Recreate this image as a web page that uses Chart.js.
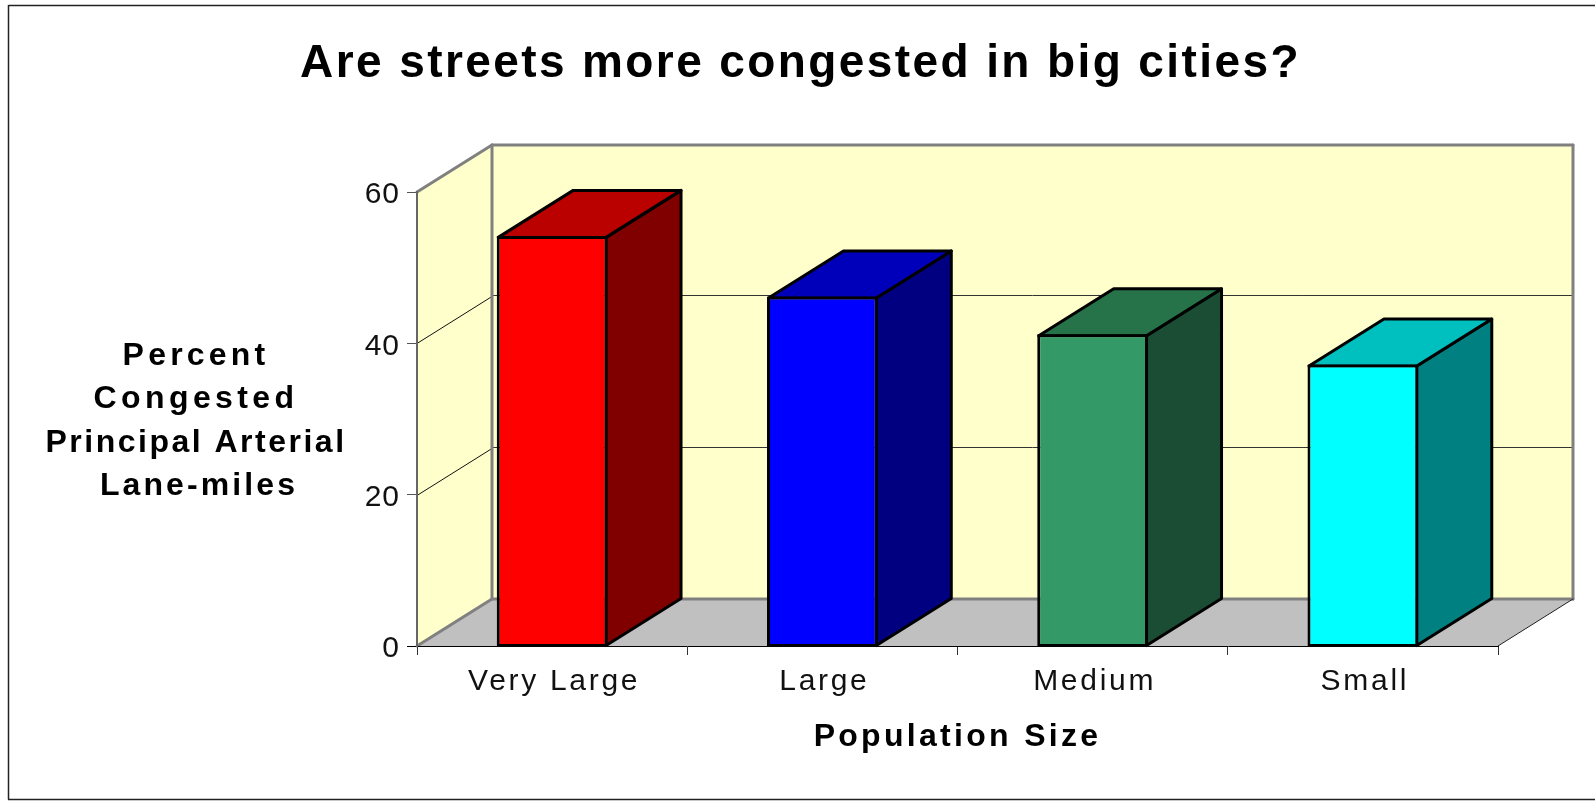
<!DOCTYPE html>
<html>
<head>
<meta charset="utf-8">
<style>html,body{margin:0;padding:0;background:#fff}canvas{display:block}</style>
<script src="https://cdn.jsdelivr.net/npm/chart.js@4/dist/chart.umd.min.js"></script>
</head>
<body>
<canvas id="c" width="1595" height="801"></canvas>
<script>
const categories = ['Very Large', 'Large', 'Medium', 'Small'];
const congestedPercent = [54.2, 46.2, 41.2, 37.2];
const yTicks = [0, 20, 40, 60];
const chartTitle = 'Are streets more congested in big cities?';
const xTitle = 'Population Size';
const yTitleLines = ['Percent', 'Congested', 'Principal Arterial', 'Lane-miles'];
const yTitleSpacing = ['4.2px', '4.4px', '2.5px', '3.1px'];
const yTitleCenters = [196, 196, 196, 199];

const frontColors = ['#FF0000', '#0000FF', '#339966', '#00FFFF'];
const topColors = ['#BB0000', '#0000BB', '#267349', '#00BFBF'];
const sideColors = ['#800000', '#000080', '#1A4D33', '#008080'];

const FONT = '"Liberation Sans", Arial, sans-serif';
const DX = 75, DY = 47;
const EDGE = 3;

function poly(ctx, pts, fill, stroke, lw) {
  ctx.beginPath();
  pts.forEach((p, i) => i ? ctx.lineTo(p[0], p[1]) : ctx.moveTo(p[0], p[1]));
  ctx.closePath();
  if (fill) { ctx.fillStyle = fill; ctx.fill(); }
  if (stroke) { ctx.strokeStyle = stroke; ctx.lineWidth = lw; ctx.stroke(); }
}
function seg(ctx, x1, y1, x2, y2, color, lw) {
  ctx.beginPath(); ctx.moveTo(x1, y1); ctx.lineTo(x2, y2);
  ctx.strokeStyle = color; ctx.lineWidth = lw; ctx.stroke();
}
function spaced(owner, name, spacing) {
  const original = owner[name];
  owner[name] = function () {
    const ctx = this.ctx;
    const previous = ctx.letterSpacing;
    ctx.letterSpacing = spacing;
    const r = original.apply(this, arguments);
    ctx.letterSpacing = previous;
    return r;
  };
}

const scene3d = {
  id: 'scene3d',
  afterLayout(chart) {
    chart.titleBlock.left = 0;
    chart.titleBlock.right = 1601;
    if (!chart.$spaced) {
      chart.$spaced = true;
      spaced(chart.scales.x, 'drawLabels', '2.7px');
      spaced(chart.scales.x, 'drawTitle', '3.3px');
      spaced(chart.scales.y, 'drawLabels', '1px');
      const tb = chart.titleBlock, orig = tb.draw;
      tb.draw = function () {
        const prev = this.ctx.letterSpacing;
        this.ctx.letterSpacing = '2.4px';
        orig.apply(this, arguments);
        this.ctx.letterSpacing = prev;
      };
    }
  },
  beforeDraw(chart) {
    const ctx = chart.ctx;
    ctx.save();
    seg(ctx, 1595, 5.5, 8.5, 5.5, '#222', 1.5);
    seg(ctx, 8.5, 5, 8.5, 799.5, '#222', 1.5);
    seg(ctx, 8, 799.5, 1595, 799.5, '#222', 1.5);
    ctx.fillStyle = '#000';
    ctx.font = 'bold 32px ' + FONT;
    ctx.textAlign = 'center';
    ctx.textBaseline = 'alphabetic';
    yTitleLines.forEach((line, i) => {
      ctx.letterSpacing = yTitleSpacing[i];
      ctx.fillText(line, yTitleCenters[i], 364.5 + i * 43.5);
    });
    ctx.restore();
  },
  beforeDatasetsDraw(chart) {
    const ctx = chart.ctx, a = chart.chartArea, ys = chart.scales.y;
    const L = a.left, R = a.right, T = a.top, B = a.bottom;
    ctx.save();
    ctx.lineJoin = 'round';
    ctx.lineCap = 'round';
    poly(ctx, [[L, T], [L + DX, T - DY], [L + DX, B - DY], [L, B]], '#FFFFCC');
    poly(ctx, [[L + DX, T - DY], [R + DX, T - DY], [R + DX, B - DY], [L + DX, B - DY]], '#FFFFCC');
    poly(ctx, [[L, B], [L + DX, B - DY], [R + DX, B - DY], [R, B]], '#C0C0C0');
    ys.ticks.forEach(t => {
      if (t.value === ys.min || t.value === ys.max) return;
      const y = Math.round(ys.getPixelForValue(t.value)) - 0.5;
      seg(ctx, L, y + 1, L + DX, y + 1 - DY, '#111', 1);
      seg(ctx, L + DX, y - DY, R + DX, y - DY, '#333', 1);
    });
    seg(ctx, L, T, L + DX, T - DY, '#808080', 3);
    seg(ctx, L + DX, T - DY, R + DX, T - DY, '#808080', 3);
    seg(ctx, L + DX, T - DY, L + DX, B - DY, '#808080', 3);
    seg(ctx, R + DX, T - DY, R + DX, B - DY, '#808080', 3);
    seg(ctx, L + DX, B - DY, R + DX, B - DY, '#808080', 3);
    seg(ctx, L, B, L + DX, B - DY, '#808080', 3);
    seg(ctx, R, B, R + DX, B - DY, '#222', 1);
    chart.getDatasetMeta(0).data.forEach((bar, i) => {
      const p = bar.getProps(['x', 'y', 'base', 'width'], true);
      const inset = EDGE / 2;
      const l = p.x - p.width / 2 + inset, r = p.x + p.width / 2 - inset, y = p.y + inset, b = p.base - inset;
      poly(ctx, [[r, y], [r + DX, y - DY], [r + DX, b - DY], [r, b]], sideColors[i], '#000', EDGE);
      poly(ctx, [[l, y], [l + DX, y - DY], [r + DX, y - DY], [r, y]], topColors[i], '#000', EDGE);
    });
    ctx.restore();
  }
};

new Chart(document.getElementById('c'), {
  type: 'bar',
  data: {
    labels: categories,
    datasets: [{
      data: congestedPercent,
      backgroundColor: frontColors,
      borderColor: '#000',
      borderWidth: EDGE,
      borderSkipped: false,
      barPercentage: 0.41,
      categoryPercentage: 1,
      base: -0.14,
      clip: false
    }]
  },
  options: {
    responsive: false,
    animation: false,
    devicePixelRatio: 1,
    layout: { padding: { left: 0, right: 97, top: 0, bottom: 35 } },
    plugins: {
      legend: { display: false },
      tooltip: { enabled: false },
      title: {
        display: true,
        text: chartTitle,
        color: '#000',
        font: { family: FONT, size: 46, weight: 'bold', lineHeight: 1.2 },
        padding: { top: 37, bottom: 99.8 }
      }
    },
    scales: {
      x: {
        afterFit(s) { s.height = 120; },
        grid: { offset: true, drawOnChartArea: false, drawTicks: true, tickLength: 9, color: '#333', z: 1 },
        border: { display: true, color: '#000', width: 1, z: 1 },
        ticks: { color: '#111', font: { family: FONT, size: 30 }, padding: 9, maxRotation: 0, autoSkip: false, labelOffset: 2 },
        title: {
          display: true, text: xTitle, color: '#000',
          font: { family: FONT, size: 32, weight: 'bold' },
          padding: { top: 0, bottom: 10 }
        }
      },
      y: {
        min: 0, max: 60,
        afterFit(s) { s.width = 417; },
        afterBuildTicks(s) { s.ticks = yTicks.map(v => ({ value: v })); },
        grid: {
          drawOnChartArea: false, drawTicks: true, tickLength: 10, z: 1,
          color: c => c.tick && c.tick.value === 0 ? '#000' : '#555'
        },
        border: { display: true, color: '#666', width: 2, z: 1 },
        ticks: { color: '#111', font: { family: FONT, size: 30 }, padding: 7, labelOffset: 3 }
      }
    }
  },
  plugins: [scene3d]
});
</script>
</body>
</html>
